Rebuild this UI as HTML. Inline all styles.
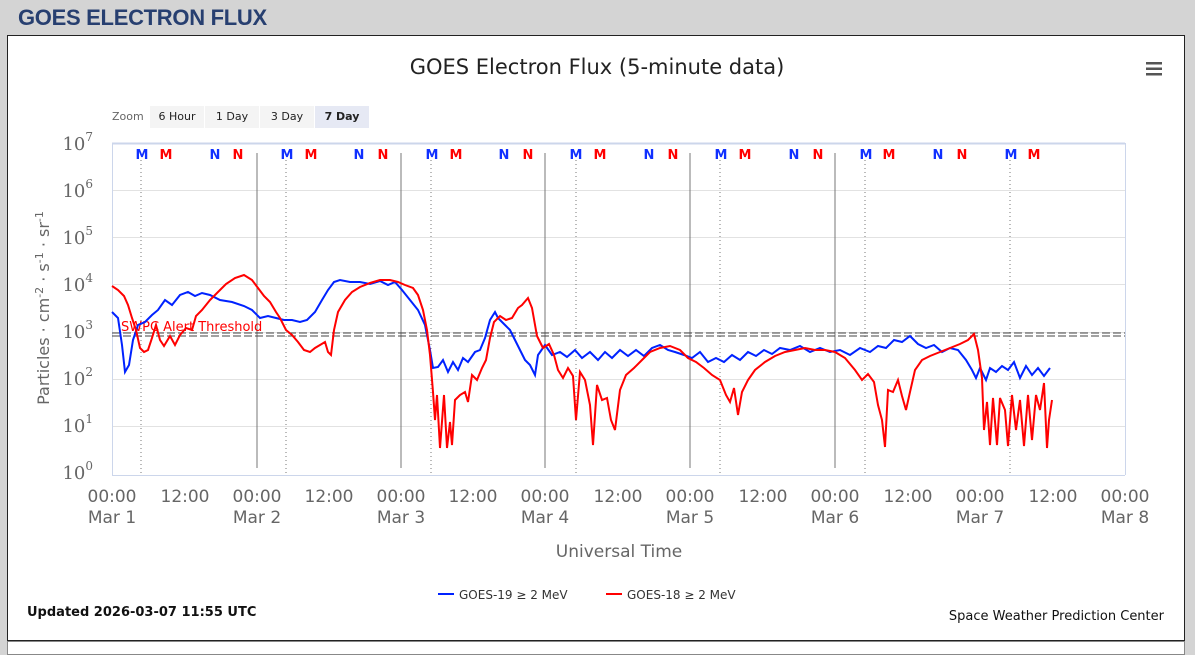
<!DOCTYPE html>
<html><head><meta charset="utf-8"><style>
body{margin:0;width:1195px;height:649px;background:#d4d4d4;font-family:"Liberation Sans",sans-serif;overflow:hidden;position:relative}
.h{position:absolute;left:18px;top:5px;font-size:22px;font-weight:bold;color:#273f70;letter-spacing:-0.3px}
.panel{position:absolute;left:7px;top:35px;width:1176px;height:604px;background:#fff;border:1px solid #222}
.bot{position:absolute;left:7px;top:641px;width:1176px;height:12px;background:#fff;border:1px solid #888}
</style></head><body>
<div class="h">GOES ELECTRON FLUX</div>
<div class="panel"></div><div class="bot"></div>
<svg width="1195" height="649" style="position:absolute;left:0;top:0" font-family="DejaVu Sans, sans-serif">
<text x="597" y="74" text-anchor="middle" font-size="21" fill="#222">GOES Electron Flux (5-minute data)</text>
<g fill="#555"><rect x="1146" y="62" width="16" height="2.5"/><rect x="1146" y="67.5" width="16" height="2.5"/><rect x="1146" y="73" width="16" height="2.5"/></g>
<text x="112" y="120" font-size="11" fill="#666">Zoom</text>
<rect x="150" y="106" width="54" height="22" fill="#f4f4f4"/><text x="177" y="120" font-size="11" text-anchor="middle" fill="#222">6 Hour</text>
<rect x="205" y="106" width="54" height="22" fill="#f4f4f4"/><text x="232" y="120" font-size="11" text-anchor="middle" fill="#222">1 Day</text>
<rect x="260" y="106" width="54" height="22" fill="#f4f4f4"/><text x="287" y="120" font-size="11" text-anchor="middle" fill="#222">3 Day</text>
<rect x="315" y="106" width="54" height="22" fill="#e6e9f4"/><text x="342" y="120" font-size="11" font-weight="bold" text-anchor="middle" fill="#222">7 Day</text>
<g stroke="#e2e2e2" stroke-width="1">
<line x1="112" x2="1125" y1="190.5" y2="190.5"/><line x1="112" x2="1125" y1="237.5" y2="237.5"/><line x1="112" x2="1125" y1="284.5" y2="284.5"/><line x1="112" x2="1125" y1="332.5" y2="332.5"/><line x1="112" x2="1125" y1="379.5" y2="379.5"/><line x1="112" x2="1125" y1="426.5" y2="426.5"/>
</g>
<line x1="112" x2="1125" y1="143.5" y2="143.5" stroke="#ccd6eb" stroke-width="2"/>
<line x1="112" x2="1125" y1="475.5" y2="475.5" stroke="#ccd6eb" stroke-width="1"/>
<line x1="1125.5" x2="1125.5" y1="143" y2="475" stroke="#ccd6eb"/>
<line x1="112.5" x2="112.5" y1="143" y2="475" stroke="#ccd6eb"/>
<g stroke="#777" stroke-width="1">
<line x1="257" x2="257" y1="153" y2="468"/><line x1="401" x2="401" y1="153" y2="468"/><line x1="545" x2="545" y1="153" y2="468"/><line x1="690" x2="690" y1="153" y2="468"/><line x1="835" x2="835" y1="153" y2="468"/>
</g>
<g stroke="#777" stroke-width="1" stroke-dasharray="1,3">
<line x1="141" x2="141" y1="160" y2="475"/><line x1="286" x2="286" y1="160" y2="475"/><line x1="431" x2="431" y1="160" y2="475"/><line x1="576" x2="576" y1="160" y2="475"/><line x1="720" x2="720" y1="160" y2="475"/><line x1="865" x2="865" y1="160" y2="475"/><line x1="1010" x2="1010" y1="160" y2="475"/>
</g>
<g font-size="13" font-weight="bold" text-anchor="middle">
<g fill="#1030ff"><text x="142" y="159">M</text><text x="215" y="159">N</text><text x="287" y="159">M</text><text x="359" y="159">N</text><text x="432" y="159">M</text><text x="504" y="159">N</text><text x="576" y="159">M</text><text x="649" y="159">N</text><text x="721" y="159">M</text><text x="794" y="159">N</text><text x="866" y="159">M</text><text x="938" y="159">N</text><text x="1011" y="159">M</text></g>
<g fill="#ff0000"><text x="166" y="159">M</text><text x="238" y="159">N</text><text x="311" y="159">M</text><text x="383" y="159">N</text><text x="456" y="159">M</text><text x="528" y="159">N</text><text x="600" y="159">M</text><text x="673" y="159">N</text><text x="745" y="159">M</text><text x="818" y="159">N</text><text x="889" y="159">M</text><text x="962" y="159">N</text><text x="1034" y="159">M</text></g>
</g>
<line x1="112" x2="1125" y1="333" y2="333" stroke="#444" stroke-dasharray="8,3"/>
<line x1="112" x2="1125" y1="336" y2="336" stroke="#444" stroke-dasharray="8,3"/>
<text x="121" y="331" font-size="13" fill="#ff0000">SWPC Alert Threshold</text>
<polyline fill="none" stroke="#0022ff" stroke-width="2" points="112,312 118,318 122,345 125,372 129,365 133,340 138,325 145,322 152,315 158,310 165,300 172,305 180,295 188,292 195,296 202,293 210,295 220,300 232,302 244,306 252,310 260,318 268,316 276,318 284,320 292,320 300,322 307,320 315,312 322,300 328,290 334,282 340,280 350,282 360,282 370,284 380,281 388,285 395,282 402,290 410,300 418,310 425,325 430,350 433,368 438,367 443,360 448,372 453,362 458,370 463,358 468,362 475,352 480,350 485,338 490,320 495,312 498,318 505,325 510,330 515,340 520,350 525,360 530,365 535,375 538,355 545,345 552,355 560,352 567,357 575,350 582,358 590,352 598,360 605,352 612,358 620,350 628,356 636,350 644,356 652,348 660,345 668,350 675,352 684,355 692,358 700,352 708,362 716,358 724,362 732,355 740,360 748,352 756,356 764,350 772,354 780,348 790,350 800,346 810,352 820,348 830,352 840,350 850,355 860,348 870,352 878,346 886,348 894,340 902,342 910,336 918,344 926,348 934,345 942,352 950,348 958,350 966,360 972,370 976,378 980,368 986,380 990,368 996,372 1002,366 1008,370 1014,362 1020,378 1026,366 1032,375 1038,368 1044,376 1050,368"/>
<polyline fill="none" stroke="#ff0000" stroke-width="2" points="112,286 118,290 124,296 128,305 132,318 136,330 140,348 144,352 148,350 152,338 156,325 160,340 164,346 170,336 175,345 180,335 186,328 192,330 196,316 202,310 210,300 218,292 226,284 235,278 244,275 252,280 258,288 264,296 270,302 276,312 280,318 286,330 292,335 298,342 304,350 310,352 315,348 320,345 325,342 328,352 331,355 334,330 338,312 345,300 352,292 360,287 370,283 380,280 390,280 398,282 405,285 413,288 418,295 423,310 427,330 430,355 433,392 435,420 437,395 440,448 444,395 447,448 450,422 452,445 455,400 460,395 465,392 468,402 472,375 477,380 482,368 486,360 490,338 494,322 500,316 506,320 512,318 518,308 522,305 528,298 532,308 537,336 543,348 549,344 554,355 558,370 563,378 568,368 573,376 576,420 580,372 585,380 590,405 593,445 597,385 602,400 607,398 611,420 615,430 620,390 626,375 634,368 642,360 650,352 660,348 670,346 680,350 688,358 696,362 704,368 712,375 720,380 726,395 730,402 734,388 738,415 742,392 748,380 755,370 765,362 775,356 785,352 795,350 805,348 815,350 825,350 835,352 845,358 855,370 862,380 868,374 874,382 878,405 882,420 885,447 888,390 893,392 898,380 902,396 906,410 910,392 915,370 922,360 930,356 940,352 950,348 960,344 968,340 974,334 978,350 982,378 984,430 987,402 990,445 993,398 997,445 1000,398 1005,410 1008,446 1012,395 1016,430 1020,400 1024,446 1028,395 1032,440 1036,395 1040,410 1044,383 1047,448 1049,420 1052,400"/>
<g fill="#666" font-size="18" text-anchor="end" font-family="DejaVu Serif, serif">
<text x="93" y="150">10<tspan dy="-9" font-size="12">7</tspan></text>
<text x="93" y="197">10<tspan dy="-9" font-size="12">6</tspan></text>
<text x="93" y="244">10<tspan dy="-9" font-size="12">5</tspan></text>
<text x="93" y="291">10<tspan dy="-9" font-size="12">4</tspan></text>
<text x="93" y="338">10<tspan dy="-9" font-size="12">3</tspan></text>
<text x="93" y="385">10<tspan dy="-9" font-size="12">2</tspan></text>
<text x="93" y="432">10<tspan dy="-9" font-size="12">1</tspan></text>
<text x="93" y="479">10<tspan dy="-9" font-size="12">0</tspan></text>
</g>
<text transform="translate(49,308) rotate(-90)" text-anchor="middle" font-size="16" fill="#666">Particles · cm<tspan dy="-6" font-size="11">-2</tspan><tspan dy="6"> · s</tspan><tspan dy="-6" font-size="11">-1</tspan><tspan dy="6"> · sr</tspan><tspan dy="-6" font-size="11">-1</tspan></text>
<g fill="#666" font-size="17" text-anchor="middle">
<text x="112" y="502">00:00</text><text x="112" y="523">Mar 1</text>
<text x="185" y="502">12:00</text>
<text x="257" y="502">00:00</text><text x="257" y="523">Mar 2</text>
<text x="329" y="502">12:00</text>
<text x="401" y="502">00:00</text><text x="401" y="523">Mar 3</text>
<text x="473" y="502">12:00</text>
<text x="545" y="502">00:00</text><text x="545" y="523">Mar 4</text>
<text x="618" y="502">12:00</text>
<text x="690" y="502">00:00</text><text x="690" y="523">Mar 5</text>
<text x="763" y="502">12:00</text>
<text x="835" y="502">00:00</text><text x="835" y="523">Mar 6</text>
<text x="908" y="502">12:00</text>
<text x="980" y="502">00:00</text><text x="980" y="523">Mar 7</text>
<text x="1053" y="502">12:00</text>
<text x="1125" y="502">00:00</text><text x="1125" y="523">Mar 8</text>
</g>
<text x="619" y="557" text-anchor="middle" font-size="17" fill="#666">Universal Time</text>
<line x1="438" x2="454" y1="594" y2="594" stroke="#0022ff" stroke-width="2"/>
<text x="459" y="599" font-size="12" fill="#333">GOES-19 ≥ 2 MeV</text>
<line x1="606" x2="622" y1="594" y2="594" stroke="#ff0000" stroke-width="2"/>
<text x="627" y="599" font-size="12" fill="#333">GOES-18 ≥ 2 MeV</text>
<text x="27" y="616" font-size="13" font-weight="bold" fill="#111">Updated 2026-03-07 11:55 UTC</text>
<text x="1164" y="620" font-size="13" text-anchor="end" fill="#111">Space Weather Prediction Center</text>
</svg>
</body></html>
